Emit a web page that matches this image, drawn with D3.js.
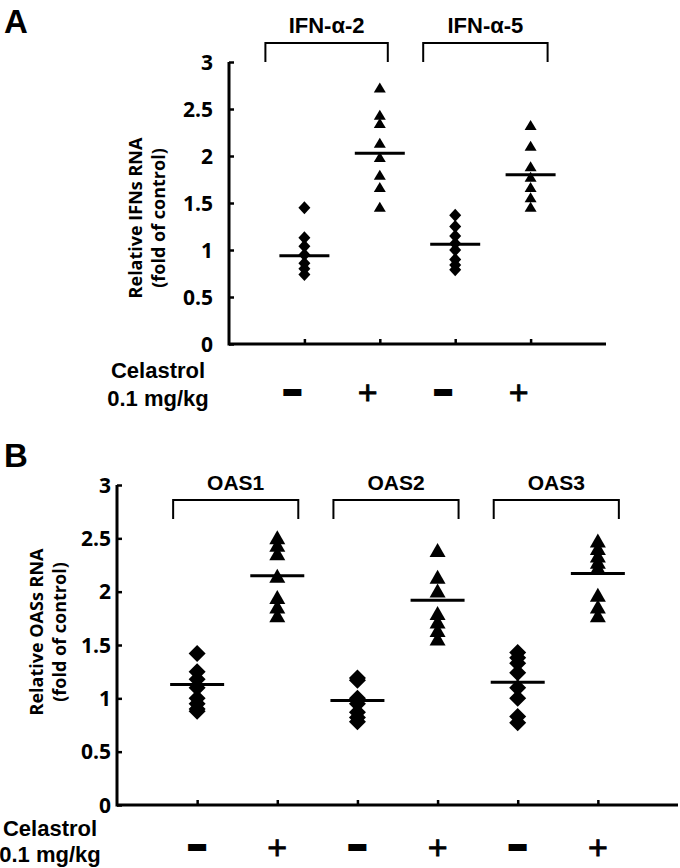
<!DOCTYPE html>
<html><head><meta charset="utf-8">
<script src="https://cdn.jsdelivr.net/npm/d3@7"></script>
<style>body{margin:0;background:#fff}svg{display:block}</style>
</head><body>
<svg id="c" width="680" height="868"></svg>
<script>
// ---------- data ----------
const yTicks = [0, 0.5, 1, 1.5, 2, 2.5, 3];
const treatment = ["−", "+"];
const groupsA = ["IFN-α-2", "IFN-α-5"];
const groupsB = ["OAS1", "OAS2", "OAS3"];
const rowLabel = ["Celastrol", "0.1 mg/kg"];
const titleA = ["Relative IFNs RNA", "(fold of control)"];
const titleB = ["Relative OASs RNA", "(fold of control)"];

const ifna2Control  = [1.45, 1.13, 1.04, 0.95, 0.86, 0.80, 0.74];
const ifna2Celastrol = [2.73, 2.44, 2.35, 2.14, 1.99, 1.80, 1.67, 1.46];
const ifna5Control  = [1.37, 1.25, 1.15, 1.07, 1.00, 0.90, 0.84, 0.79];
const ifna5Celastrol = [2.33, 2.11, 1.89, 1.78, 1.67, 1.56, 1.46];
const meansA = [0.94, 2.03, 1.06, 1.80];

const oas1Control  = [1.42, 1.25, 1.18, 1.10, 1.00, 0.95, 0.90, 0.88];
const oas1Celastrol = [2.51, 2.44, 2.36, 2.15, 1.95, 1.86, 1.78];
const oas2Control  = [1.19, 1.17, 1.00, 0.95, 0.87, 0.82, 0.78];
const oas2Celastrol = [2.39, 2.14, 2.01, 1.80, 1.72, 1.64, 1.56];
const oas3Control  = [1.43, 1.38, 1.33, 1.24, 1.10, 1.00, 0.83, 0.77];
const oas3Celastrol = [2.48, 2.41, 2.34, 2.28, 2.23, 1.97, 1.86, 1.78];
const meansB = [1.13, 2.15, 0.98, 1.92, 1.15, 2.17];

// ---------- drawing ----------
const svg = d3.select("#c");
const tickFont = "'Open Sans', sans-serif";
const labFont = "'Liberation Sans', Arial, sans-serif";

function triangle(w, h) { return `M0,${-h/2}L${w/2},${h/2}L${-w/2},${h/2}Z`; }
function diamond(w, h) { return `M0,${-h/2}L${w/2},0L0,${h/2}L${-w/2},0Z`; }

function panel(cfg) {
  const g = svg.append("g");
  const cats = [];
  cfg.groups.forEach((gr, i) => treatment.forEach((t, j) => cats.push(gr + "|" + j)));
  const x = d3.scalePoint().domain(cats).range([cfg.x0, cfg.x1]).padding(1);
  const y = d3.scaleLinear().domain([0, 3]).range([cfg.y0, cfg.y1]);

  // y axis
  const ya = g.append("g").attr("transform", `translate(${cfg.x0},0)`)
    .call(d3.axisRight(y).tickValues(yTicks).tickSize(5).tickFormat(""));
  ya.select(".domain").attr("stroke-width", 3).attr("d", `M0,${cfg.y0+1.5}V${cfg.y1}`);
  ya.selectAll(".tick line").attr("stroke-width", 2.5);
  g.selectAll(".ylab").data(yTicks).join("text")
    .attr("x", cfg.x0 - cfg.labGap).attr("y", d => y(d)).attr("dy", "0.36em")
    .attr("text-anchor", "end").attr("font-family", tickFont).attr("font-weight", 700)
    .attr("font-size", 21).text(d => d3.format("")(d));

  // x axis
  const xa = g.append("g").attr("transform", `translate(0,${cfg.y0})`)
    .call(d3.axisTop(x).tickSize(5).tickFormat(""));
  xa.select(".domain").attr("stroke-width", 3).attr("d", `M${cfg.x0},0H${cfg.x1}`);
  xa.selectAll(".tick line").attr("stroke-width", 2.5);

  // y title
  cfg.title.forEach((t, i) => {
    g.append("text").attr("transform", `translate(${cfg.titleX[i]},${cfg.titleY}) rotate(-90)`)
      .attr("text-anchor", "middle").attr("font-family", tickFont).attr("font-weight", 700)
      .attr("font-size", cfg.titleSize).text(t);
  });

  // brackets + group labels
  cfg.groups.forEach((gr, i) => {
    const l = x(gr + "|0") + cfg.brL[i], r = x(gr + "|1") + cfg.brR[i];
    g.append("path").attr("d", `M${l},${cfg.brBot}V${cfg.brTop}H${r}V${cfg.brBot}`)
      .attr("fill", "none").attr("stroke", "#000").attr("stroke-width", 2);
    g.append("text").attr("x", (l + r) / 2).attr("y", cfg.brTop - 10)
      .attr("text-anchor", "middle").attr("font-family", labFont).attr("font-weight", 700)
      .attr("font-size", cfg.grSize).text(gr);
  });

  // points
  cfg.series.forEach((vals, k) => {
    const cx = x(cats[k]);
    const isCtrl = k % 2 === 0;
    const sym = isCtrl ? diamond(cfg.dw, cfg.dh) : triangle(cfg.tw, cfg.th);
    g.selectAll(null).data(vals).join("path")
      .attr("d", sym).attr("fill", "#000")
      .attr("transform", d => `translate(${cx},${y(d)})`);
    g.append("line").attr("x1", cx - cfg.mw).attr("x2", cx + cfg.mw)
      .attr("y1", y(cfg.means[k])).attr("y2", y(cfg.means[k]))
      .attr("stroke", "#000").attr("stroke-width", 3);
  });

  // treatment signs
  cats.forEach((c, k) => {
    const j = k % 2;
    const t = g.append("text").attr("x", x(c) + cfg.signDx).attr("y", cfg.signY)
      .attr("text-anchor", "middle").attr("font-family", labFont)
      .text(treatment[j]);
    if (j === 0) t.attr("font-size", 28).attr("font-weight", 700).attr("dy", "0.32em")
      .attr("stroke", "#000").attr("stroke-width", 4);
    else t.attr("font-size", 34).attr("dy", "0.33em").attr("stroke", "#000").attr("stroke-width", 0.8);
  });

  // row label
  rowLabel.forEach((t, i) => {
    g.append("text").attr("x", cfg.rowX).attr("y", cfg.rowY[i]).attr("text-anchor", "middle")
      .attr("font-family", labFont).attr("font-weight", 700).attr("font-size", 22).text(t);
  });

  // panel letter
  g.append("text").attr("x", cfg.letter[1]).attr("y", cfg.letter[2])
    .attr("font-family", labFont).attr("font-weight", 700).attr("font-size", 33).text(cfg.letter[0]);
}

panel({
  groups: groupsA,
  series: [ifna2Control, ifna2Celastrol, ifna5Control, ifna5Celastrol],
  means: meansA,
  x0: 229, x1: 606, y0: 344, y1: 62, labGap: 16,
  title: titleA, titleX: [142, 165], titleY: 218, titleSize: 18,
  brL: [-39, -32], brR: [8, 17], brTop: 43, brBot: 62, grSize: 22,
  dw: 12, dh: 13, tw: 12, th: 10, mw: 25,
  signDx: -12, signY: 393,
  rowX: 158, rowY: [378, 406],
  letter: ["A", 4, 33]
});

panel({
  groups: groupsB,
  series: [oas1Control, oas1Celastrol, oas2Control, oas2Celastrol, oas3Control, oas3Celastrol],
  means: meansB,
  x0: 117, x1: 678, y0: 805, y1: 485, labGap: 6,
  title: titleB, titleX: [43, 66], titleY: 632, titleSize: 18,
  brL: [-24, -24, -24], brR: [21, 21, 21], brTop: 500, brBot: 519, grSize: 21,
  dw: 17, dh: 17, tw: 16, th: 14, mw: 27,
  signDx: 0, signY: 848,
  rowX: 50, rowY: [836, 862],
  letter: ["B", 4, 467]
});
</script>
</body></html>
